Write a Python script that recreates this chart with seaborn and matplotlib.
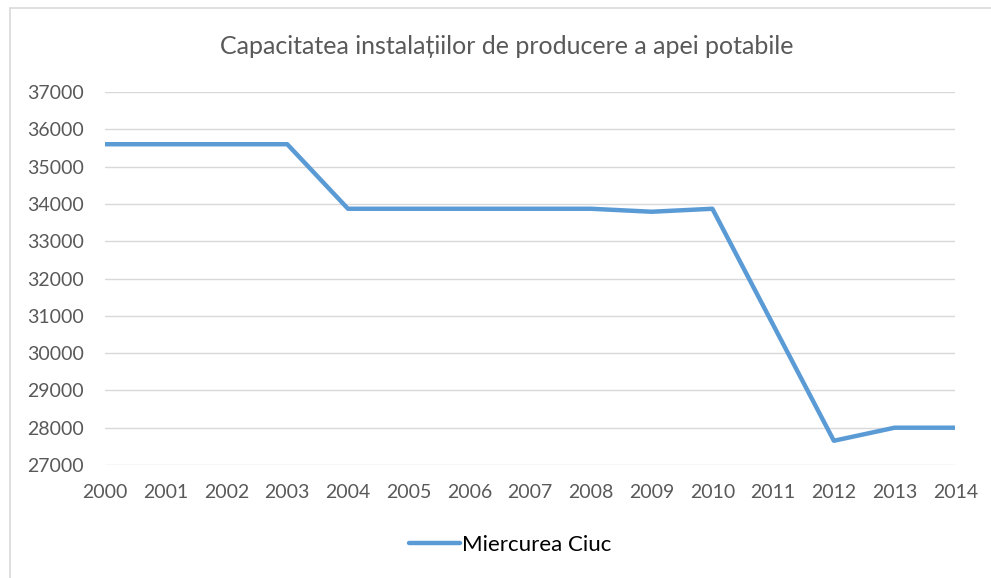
import matplotlib
matplotlib.use("Agg")
import matplotlib.pyplot as plt
import matplotlib.patches as mpatches
import seaborn as sns
import pandas as pd

years = [2000, 2001, 2002, 2003, 2004, 2005, 2006, 2007, 2008, 2009, 2010, 2011, 2012, 2013, 2014]
capacity = [35600, 35600, 35600, 35600, 33870, 33870, 33870, 33870, 33870, 33790, 33870, 30760, 27650, 28000, 28000]
series_name = "Miercurea Ciuc"
title = "Capacitatea instalațiilor de producere a apei potabile"
y_ticks = [27000, 28000, 29000, 30000, 31000, 32000, 33000, 34000, 35000, 36000, 37000]

df = pd.DataFrame({"An": years, "Capacitate": capacity, "Localitate": series_name})

sns.set_theme(style="white")
plt.rcParams["font.family"] = ["Lato", "DejaVu Sans"]

fig = plt.figure(figsize=(9.91, 5.78), dpi=100)
ax = fig.add_axes([0.106, 0.1955, 0.858, 0.6453])

# outer chart frame
fig.patches.append(mpatches.Rectangle((10 / 991, -0.01), 1.0, 1 - 8 / 578 + 0.01,
                                      transform=fig.transFigure, fill=False,
                                      edgecolor="#D9D9D9", linewidth=1.2))

sns.lineplot(data=df, x="An", y="Capacitate", hue="Localitate",
             palette=["#5B9BD5"], linewidth=3.2, ax=ax, legend=False)

ax.set_xlim(years[0], years[-1])
ax.set_ylim(y_ticks[0], y_ticks[-1])
ax.set_xticks(years)
ax.set_xticklabels([str(y) for y in years])
ax.set_yticks(y_ticks)
ax.set_yticklabels([str(v) for v in y_ticks])
ax.grid(axis="y", color="#D9D9D9", linewidth=1.0)
ax.grid(axis="x", visible=False)
for s in ax.spines.values():
    s.set_visible(False)
ax.tick_params(axis="both", length=0, labelsize=14, labelcolor="#595959")
ax.tick_params(axis="y", pad=15)
ax.tick_params(axis="x", pad=14)
ax.set_xlabel("")
ax.set_ylabel("")

fig.text(0.511, 1 - 46 / 578, title, ha="center", va="center",
         fontsize=18, color="#595959")

handle = plt.Line2D([], [], color="#5B9BD5", linewidth=3.2, solid_capstyle="round")
leg = fig.legend([handle], [series_name], loc="center", bbox_to_anchor=(0.515, 1 - 545 / 578),
                 frameon=False, fontsize=16, handlelength=2.3, handletextpad=0.1)
for t in leg.get_texts():
    t.set_color("black")

fig.savefig("out.png", dpi=100, facecolor="white")
